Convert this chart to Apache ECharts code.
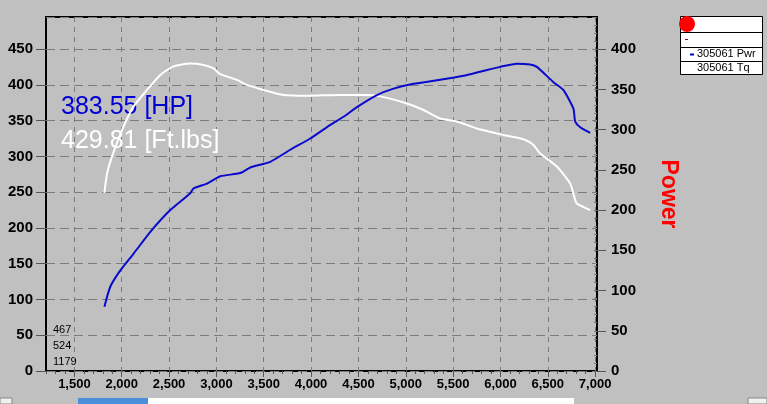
<!DOCTYPE html>
<html>
<head>
<meta charset="utf-8">
<script src="https://cdn.jsdelivr.net/npm/echarts@6/dist/echarts.min.js"></script>
<style>
html,body{margin:0;padding:0;background:#c0c0c0;}
#chart{width:767px;height:404px;}
</style>
</head>
<body>
<div id="chart"></div>
<script>
// ---- data ----
const tqRpm = [1817,1845,1898,2020,2126,2267,2408,2548,2724,2865,2970,3041,3218,3323,3498,3709,3957,4308,4554,4730,5012,5188,5364,5540,5751,6032,6243,6349,6420,6596,6737,6790,6808,6948];
const torque = [249,276,300,342,370,393,414,426,430,428,423,415,407,400,393,386,385,386,386,384,374,365,353,349,339,330,324,316,304,286,262,239,234,225];
const pwrRpm = [1817,1880,1985,2126,2302,2513,2724,2759,2901,3041,3252,3358,3569,3780,3991,4203,4343,4484,4696,4871,5082,5364,5610,5786,5997,6173,6314,6385,6560,6666,6771,6790,6843,6948];
const power = [80,105,125,146,173,200,221,227,233,242,246,253,260,275,289,306,316,328,343,351,357,362,367,372,378,382,381,378,359,349,326,310,303,296];
const xLabels = [1500,2000,2500,3000,3500,4000,4500,5000,5500,6000,6500,7000];
const rightTicks = [0,50,100,150,200,250,300,350,400];
const peakHpText = '383.55 [HP]';
const peakTqText = '429.81 [Ft.lbs]';
const infoLines = ['467','524','1179'];
const legendLabels = ['305061 Pwr','305061 Tq'];
const rightAxisName = 'Power';

const minorX = [];
for (let v = 1200; v <= 7000; v += 100) minorX.push(v);
const minorR = [];
for (let v = 0; v <= 440; v += 10) minorR.push(v);

const FONT = '"Liberation Sans", Arial, sans-serif';
const chart = echarts.init(document.getElementById('chart'), null, {renderer: 'canvas'});

const option = {
  backgroundColor: '#c0c0c0',
  animation: false,
  grid: {left: 46, right: 170, top: 17, bottom: 33, show: true, borderColor: '#000', borderWidth: 2, backgroundColor: 'transparent'},
  xAxis: [
    {
      type: 'value', min: 1200, max: 7020, position: 'bottom',
      axisLine: {show: false},
      axisTick: {show: true, customValues: xLabels, length: 6, lineStyle: {color: '#555'}},
      axisLabel: {customValues: xLabels, margin: 7, color: '#000', fontFamily: FONT, fontWeight: 'bold', fontSize: 13,
        formatter: v => v.toLocaleString('en-US')},
      splitLine: {show: true, lineStyle: {color: '#7c7c7c', type: [5, 5], width: 1}}
    },
    {
      type: 'value', min: 1200, max: 7020, position: 'bottom',
      axisLine: {show: false}, axisLabel: {show: false}, splitLine: {show: false},
      axisTick: {show: true, customValues: minorX, length: 3, lineStyle: {color: '#555'}}
    }
  ],
  yAxis: [
    {
      type: 'value', min: 0, max: 495, interval: 50, position: 'left',
      axisLine: {show: false},
      axisTick: {show: true, length: 10, lineStyle: {color: '#555'}},
      axisLabel: {showMaxLabel: false, margin: 13, color: '#000', fontFamily: FONT, fontWeight: 'bold', fontSize: 15},
      splitLine: {show: true, lineStyle: {color: '#7c7c7c', type: [9, 5], width: 1}}
    },
    {
      type: 'value', min: 0, max: 440, position: 'right',
      name: rightAxisName, nameLocation: 'middle', nameGap: 60, nameRotate: -90,
      nameTextStyle: {color: '#ff0000', fontFamily: FONT, fontWeight: 'bold', fontSize: 23},
      axisLine: {show: false},
      axisTick: {show: true, customValues: rightTicks, length: 9, lineStyle: {color: '#555'}},
      axisLabel: {customValues: rightTicks, margin: 14, color: '#000', fontFamily: FONT, fontWeight: 'bold', fontSize: 15},
      splitLine: {show: false}
    },
    {
      type: 'value', min: 0, max: 440, position: 'right',
      axisLine: {show: false}, axisLabel: {show: false}, splitLine: {show: false},
      axisTick: {show: true, inside: true, customValues: minorR, length: 3, lineStyle: {color: '#777'}}
    }
  ],
  series: [
    {
      name: legendLabels[1], type: 'line', xAxisIndex: 0, yAxisIndex: 0, showSymbol: false, smooth: 0.2,
      lineStyle: {color: '#ffffff', width: 2}, z: 3,
      data: tqRpm.map((r, i) => [r, torque[i]])
    },
    {
      name: legendLabels[0], type: 'line', xAxisIndex: 0, yAxisIndex: 1, showSymbol: false, smooth: 0.2,
      lineStyle: {color: '#0a0acc', width: 2}, z: 4,
      data: pwrRpm.map((r, i) => [r, power[i]])
    }
  ],
  graphic: [
    {type: 'text', left: 61, top: 95, z: 1, style: {text: peakHpText, fill: '#0000d4', font: '25px ' + FONT}},
    {type: 'text', left: 61, top: 129, z: 1, style: {text: peakTqText, fill: '#ffffff', font: '25px ' + FONT}},
    {type: 'text', left: 53, top: 324, style: {text: infoLines[0], fill: '#000', font: '11px ' + FONT}},
    {type: 'text', left: 53, top: 340, style: {text: infoLines[1], fill: '#000', font: '11px ' + FONT}},
    {type: 'text', left: 53, top: 356, style: {text: infoLines[2], fill: '#000', font: '11px ' + FONT}},
    // legend box
    {type: 'rect', shape: {x: 680.5, y: 16.5, width: 82, height: 58}, style: {fill: '#fff', stroke: '#000', lineWidth: 1}},
    {type: 'line', shape: {x1: 680, y1: 32.5, x2: 763, y2: 32.5}, style: {stroke: '#000', lineWidth: 1}},
    {type: 'line', shape: {x1: 680, y1: 47.5, x2: 763, y2: 47.5}, style: {stroke: '#000', lineWidth: 1}},
    {type: 'line', shape: {x1: 680, y1: 61.5, x2: 763, y2: 61.5}, style: {stroke: '#000', lineWidth: 1}},
    {type: 'circle', shape: {cx: 687, cy: 24, r: 8}, style: {fill: '#ff0000'}},
    {type: 'line', shape: {x1: 685, y1: 39.5, x2: 688, y2: 39.5}, style: {stroke: '#a00000', lineWidth: 1}},
    {type: 'line', shape: {x1: 690, y1: 54.5, x2: 694, y2: 54.5}, style: {stroke: '#0000cc', lineWidth: 2}},
    {type: 'text', left: 697, top: 48, style: {text: legendLabels[0], fill: '#000', font: '11px ' + FONT}},
    {type: 'text', left: 697, top: 62, style: {text: legendLabels[1], fill: '#000', font: '11px ' + FONT}},
    // bottom scrollbar decoration
    {type: 'rect', shape: {x: 78, y: 398, width: 496, height: 6}, style: {fill: '#fff'}},
    {type: 'rect', shape: {x: 78, y: 398, width: 70, height: 6}, style: {fill: '#4a8fdc'}},
    {type: 'rect', shape: {x: 0, y: 398, width: 12, height: 6}, style: {fill: '#f0f0f0', stroke: '#888', lineWidth: 1}},
    {type: 'rect', shape: {x: 748, y: 398, width: 19, height: 6}, style: {fill: '#f0f0f0', stroke: '#888', lineWidth: 1}}
  ]
};
chart.setOption(option);
</script>
</body>
</html>
